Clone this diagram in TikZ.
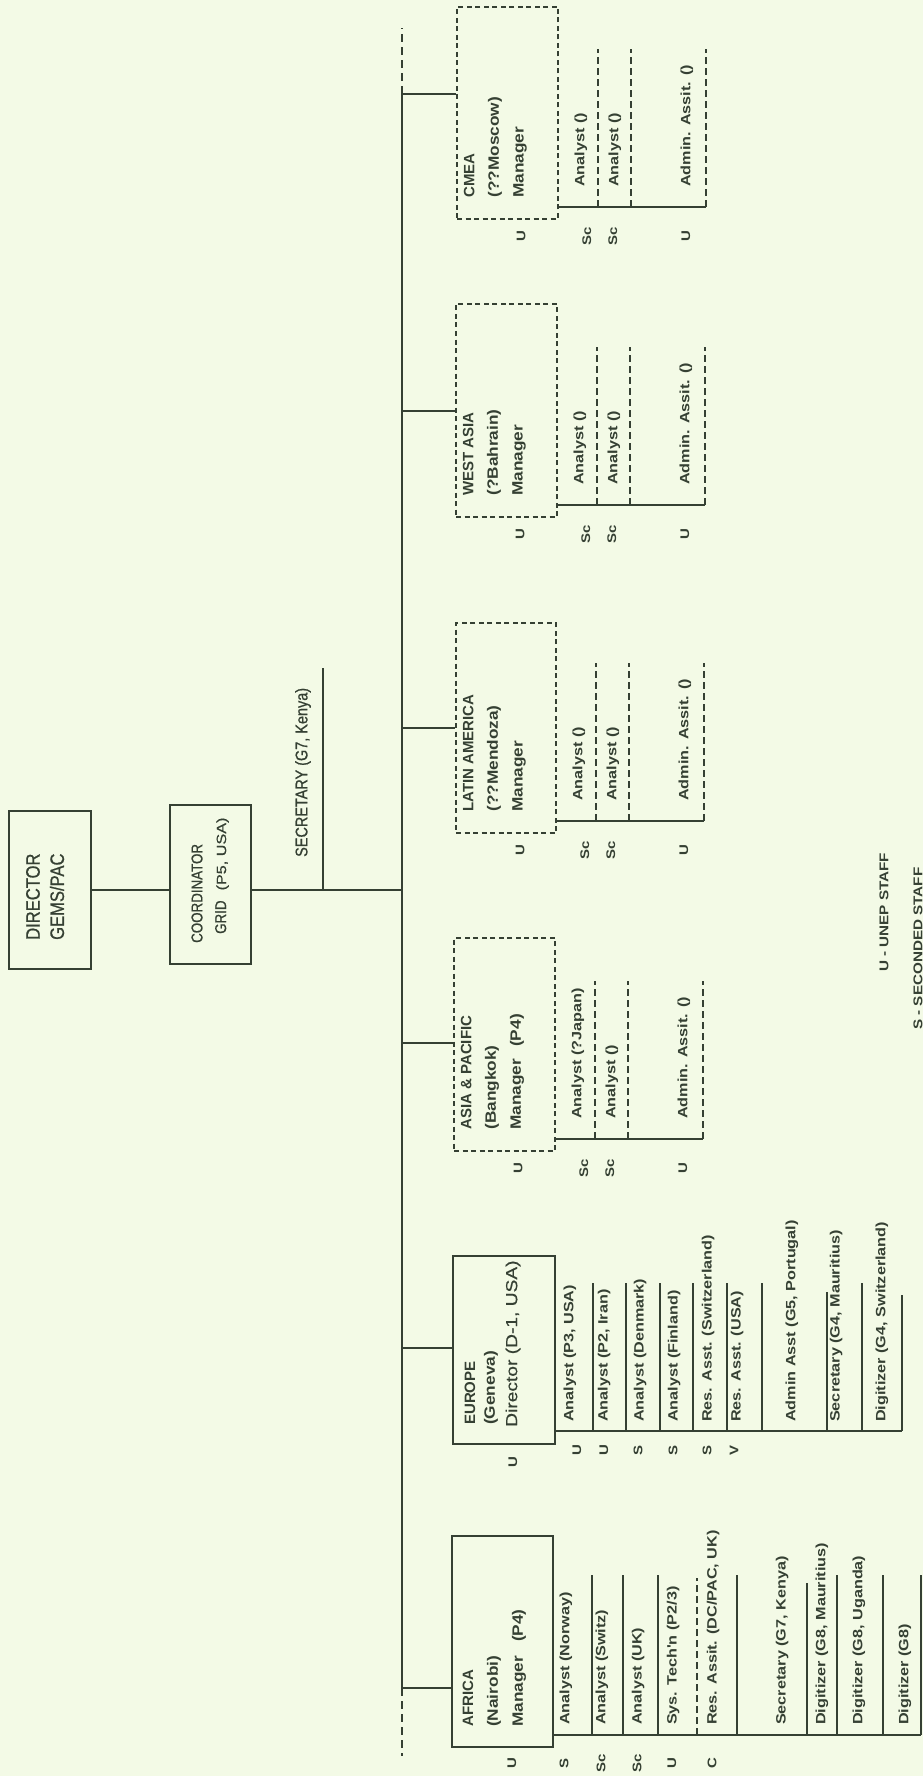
\documentclass[tikz,border=0pt]{standalone}
\usepackage{fontspec}
\setmainfont{Liberation Sans}
\newfontfamily\fstf[FakeStretch=1.2]{Liberation Sans Bold}
\newfontfamily\fttl[FakeStretch=1.15]{Liberation Sans Bold}
\newfontfamily\fcapt{Liberation Sans Bold}
\newfontfamily\fcond[FakeStretch=0.85,FakeBold=0.8]{Liberation Sans}
\newfontfamily\freg[FakeStretch=1.2,FakeBold=0.5]{Liberation Sans}
\definecolor{bg}{HTML}{F3FAE6}
\definecolor{ink}{HTML}{354033}
\tikzset{
  conn/.style={draw=ink, line width=1.8pt},
  sline/.style={draw=ink, line width=1.5pt},
  dsep/.style={draw=ink, line width=1.5pt, dash pattern=on 7pt off 4pt},
  sbox/.style={draw=ink, line width=1.8pt, inner sep=0pt},
  dbox/.style={sbox, dash pattern=on 5pt off 3.5pt},
  tx/.style={rotate=90, anchor=west, inner sep=0pt, text=ink},
  capt/.style={tx, font=\fcapt\fontsize{15}{18}\selectfont},
  ttl/.style={tx, font=\fttl\fontsize{15}{18}\selectfont},
  stf/.style={tx, font=\fstf\fontsize{13.5}{16}\selectfont},
  lbl/.style={rotate=90, inner sep=0pt, text=ink, font=\fstf\fontsize{12.5}{15}\selectfont},
}
\newcommand\regionstaff[5]{%
  \node[capt] (#1-t1) at ([xshift=13pt,yshift=22pt]#1.south west) {#2};
  \node[ttl]  (#1-t2) at ([xshift=39pt,yshift=22pt]#1.south west) {#3};
  \node[ttl]  (#1-t3) at ([xshift=64pt,yshift=22pt]#1.south west) {#4};
  \draw[conn] ([yshift=13pt]#1.south east) coordinate (#1-b0) -- ++(147,0) coordinate (#1-b3);
  \draw[dsep] (#1-b0) ++(39,0) -- ++(0,-158);
  \draw[dsep] (#1-b0) ++(72,0) -- ++(0,-158);
  \draw[dsep] (#1-b3) -- ++(0,-158);
  \node[stf] (#1-s1) at ([xshift=22pt,yshift=33pt]#1.south east) {#5};
  \node[stf] (#1-s2) at ([xshift=56pt,yshift=33pt]#1.south east) {Analyst ()};
  \node[stf] (#1-s3) at ([xshift=128pt,yshift=33pt]#1.south east) {Admin.  Assit. ()};
  \node[lbl] (#1-l0) at ([xshift=65pt,yshift=-16pt]#1.south west) {U};
  \node[lbl] (#1-l1) at ([xshift=28pt,yshift=-16pt]#1.south east) {Sc};
  \node[lbl] (#1-l2) at ([xshift=54pt,yshift=-16pt]#1.south east) {Sc};
  \node[lbl] (#1-l3) at ([xshift=127pt,yshift=-16pt]#1.south east) {U};
}
\begin{document}
\begin{tikzpicture}[x=1pt,y=-1pt]
\fill[bg] (0,0) rectangle (923,1776);
\useasboundingbox (0,0) rectangle (923,1776);

% ---------- main spine ----------
\coordinate (mtopd) at (402,28);
\coordinate (mcm) at (402,94);
\coordinate (mwa) at (402,411);
\coordinate (mla) at (402,728);
\coordinate (mco) at (402,890);
\coordinate (mas) at (402,1043);
\coordinate (meu) at (402,1348);
\coordinate (maf) at (402,1688);
\coordinate (mbotd) at (402,1756);
\draw[conn] (mcm) -- (maf);
\draw[conn, dash pattern=on 8pt off 5pt] (mcm) -- (mtopd);
\draw[conn, dash pattern=on 8pt off 5pt] (maf) -- (mbotd);

% ---------- director / coordinator ----------
\node[sbox, minimum width=82pt, minimum height=158pt] (dir) at (50,890) {};
\node[tx, font=\fcond\fontsize{19.5}{22}\selectfont] (dirA) at (33,940) {DIRECTOR};
\node[tx, font=\fcond\fontsize{19.5}{22}\selectfont] (dirB) at (57,940) {GEMS/PAC};
\node[sbox, minimum width=81pt, minimum height=159pt] (coord) at (210.5,884.5) {};
\node[tx, font=\fcond\fontsize{15.7}{18}\selectfont] (coA) at (197,943) {COORDINATOR};
\node[tx, font=\fcond\fontsize{15.7}{18}\selectfont] (coB) at (222,934) {GRID\hspace{10pt}{\freg\fontsize{13.5}{16}\selectfont(P5,\ USA)}};
\draw[conn] (dir.east |- mco) -- (coord.west |- mco);
\draw[conn] (coord.east |- mco) -- (mco);
\coordinate (secj) at (323,890);
\coordinate (sect) at (323,668);
\draw[conn] (secj) -- (sect);
\node[tx, font=\fcond\fontsize{17}{20}\selectfont] (sec) at (303,857) {SECRETARY (G7, Kenya)};

% ---------- dashed regional boxes ----------
\node[dbox, minimum width=101pt, minimum height=212pt] (cmea) at (507.5,113) {};
\node[dbox, minimum width=101pt, minimum height=213pt] (wasia) at (506.5,410.5) {};
\node[dbox, minimum width=100pt, minimum height=210pt] (latam) at (506,728) {};
\node[dbox, minimum width=101pt, minimum height=213pt] (asia) at (504.5,1044.5) {};
\draw[conn] (mcm) -- (mcm -| cmea.west);
\draw[conn] (mwa) -- (mwa -| wasia.west);
\draw[conn] (mla) -- (mla -| latam.west);
\draw[conn] (mas) -- (mas -| asia.west);
\regionstaff{cmea}{CMEA}{(??Moscow)}{Manager}{Analyst ()}
\regionstaff{wasia}{WEST ASIA}{(?Bahrain)}{Manager}{Analyst ()}
\regionstaff{latam}{LATIN AMERICA}{(??Mendoza)}{Manager}{Analyst ()}
\regionstaff{asia}{ASIA \& PACIFIC}{(Bangkok)}{Manager\hspace{12pt}(P4)}{Analyst (?Japan)}

% ---------- Europe ----------
\node[sbox, minimum width=102pt, minimum height=188pt] (europe) at (504,1350) {};
\draw[conn] (meu) -- (meu -| europe.west);
\node[capt] (euA) at (470,1425) {EUROPE};
\node[ttl] (euB) at (491,1425) {(Geneva)};
\node[tx, font=\freg\fontsize{16}{19}\selectfont] (euC) at (513,1427) {Director (D-1, USA)};
\draw[conn] (europe.south east |- 0,1431) -- (902,1431);
\foreach \x in {593,626,660,693,727,762,862} \draw[sline] (\x,1431) -- (\x,1283);
\draw[sline] (827,1431) -- (827,1292);
\draw[sline] (902,1431) -- (902,1295);
\node[stf] (eu1) at (570,1422) {Analyst (P3, USA)};
\node[stf] (eu2) at (604,1422) {Analyst (P2, Iran)};
\node[stf] (eu3) at (640,1422) {Analyst (Denmark)};
\node[stf] (eu4) at (674,1422) {Analyst (Finland)};
\node[stf] (eu5) at (708,1422) {Res. Asst. (Switzerland)};
\node[stf] (eu6) at (737,1422) {Res. Asst. (USA)};
\node[stf] (eu7) at (792,1422) {Admin Asst (G5, Portugal)};
\node[stf] (eu8) at (836,1422) {Secretary (G4, Mauritius)};
\node[stf] (eu9) at (882,1422) {Digitizer (G4, Switzerland)};
\node[lbl] (eul0) at (513,1462) {U};
\node[lbl] (eul1) at (577,1450) {U};
\node[lbl] (eul2) at (604,1450) {U};
\node[lbl] (eul3) at (638,1450) {S};
\node[lbl] (eul4) at (673,1450) {S};
\node[lbl] (eul5) at (707,1450) {S};
\node[lbl] (eul6) at (734,1450) {V};

% ---------- Africa ----------
\node[sbox, minimum width=101pt, minimum height=211pt] (africa) at (502.5,1641.5) {};
\draw[conn] (maf) -- (maf -| africa.west);
\node[capt] (afA) at (468,1727) {AFRICA};
\node[ttl] (afB) at (494,1727) {(Nairobi)};
\node[ttl] (afC) at (519,1727) {Manager\hspace{14pt}(P4)};
\draw[conn] (africa.south east |- 0,1735) -- (921,1735);
\foreach \x in {592,623,658,737,837,883,921} \draw[sline] (\x,1735) -- (\x,1575);
\draw[sline] (807,1735) -- (807,1583);
\draw[dsep] (697,1735) -- (697,1578);
\node[stf] (af1) at (566,1725) {Analyst (Norway)};
\node[stf] (af2) at (602,1725) {Analyst (Switz)};
\node[stf] (af3) at (638,1725) {Analyst (UK)};
\node[stf] (af4) at (673,1725) {Sys. Tech'n (P2/3)};
\node[stf] (af5) at (713,1725) {Res. Assit. (DC/PAC, UK)};
\node[stf] (af6) at (782,1725) {Secretary (G7, Kenya)};
\node[stf] (af7) at (822,1725) {Digitizer (G8, Mauritius)};
\node[stf] (af8) at (859,1725) {Digitizer (G8, Uganda)};
\node[stf] (af9) at (905,1725) {Digitizer (G8)};
\node[lbl] (afl0) at (512,1763) {U};
\node[lbl] (afl1) at (564,1763) {S};
\node[lbl] (afl2) at (601,1763) {Sc};
\node[lbl] (afl3) at (637,1763) {Sc};
\node[lbl] (afl4) at (672,1763) {U};
\node[lbl] (afl5) at (712,1763) {C};

% ---------- legend ----------
\node[tx, font=\fstf\fontsize{12.7}{15}\selectfont] (leg1) at (884,972) {U - UNEP STAFF};
\node[tx, font=\fstf\fontsize{12.7}{15}\selectfont] (leg2) at (918,1030) {S - SECONDED STAFF};
\end{tikzpicture}
\end{document}
